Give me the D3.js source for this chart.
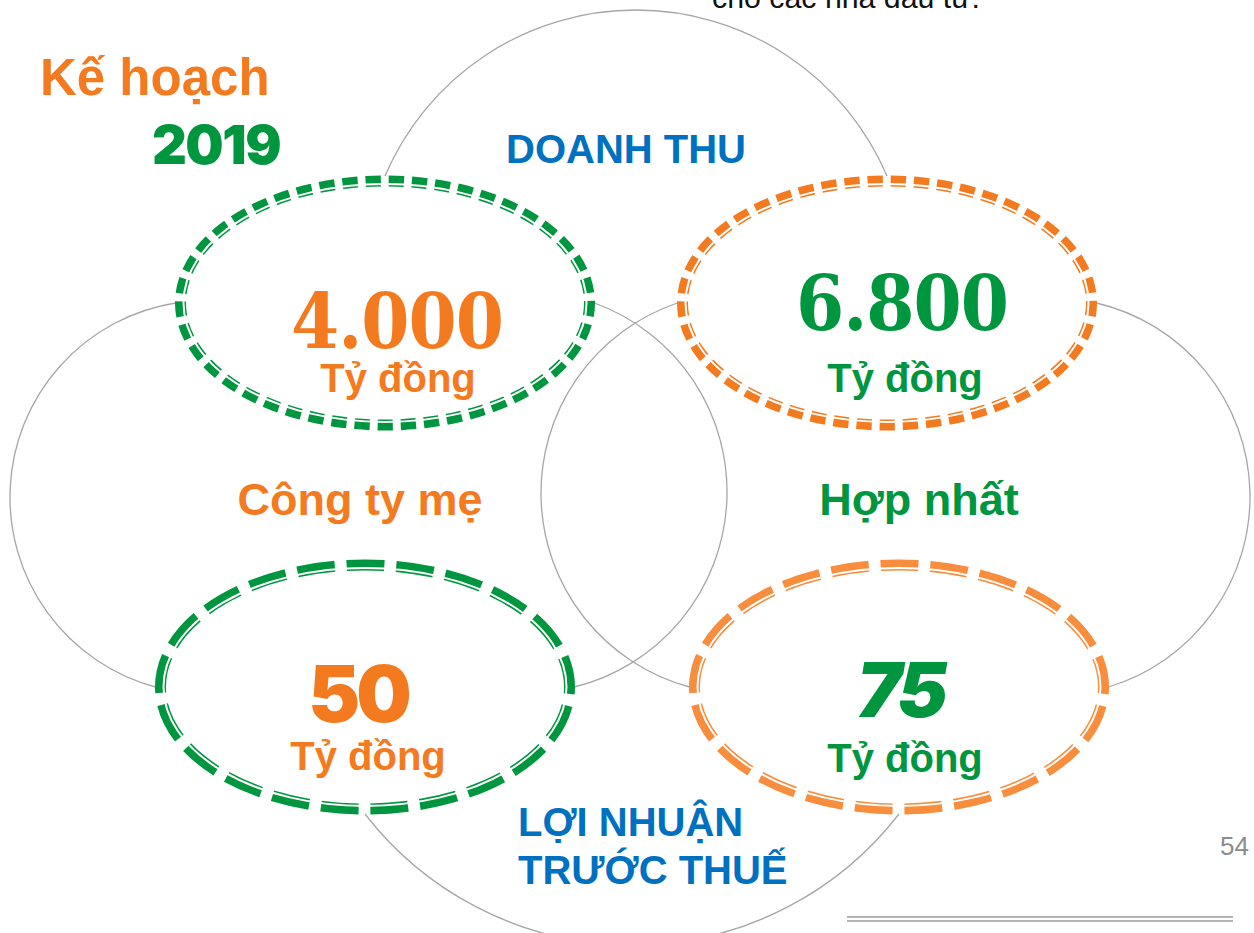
<!DOCTYPE html>
<html>
<head>
<meta charset="utf-8">
<script src="https://cdn.jsdelivr.net/npm/d3@7"></script>
<style>
  html, body { margin: 0; padding: 0; background: #fff; }
  svg { display: block; }
</style>
</head>
<body>
<svg id="chart" width="1254" height="933"></svg>
<script>
// ---------------- data ----------------
const titleLines = ["Kế hoạch", "2019"];
const scopes = ["Công ty mẹ", "Hợp nhất"];
const metrics = ["DOANH THU", "LỢI NHUẬN TRƯỚC THUẾ"];
const metricLines = [["DOANH THU"], ["LỢI NHUẬN", "TRƯỚC THUẾ"]];
const values = [4000, 6800, 50, 75];          // DT mẹ, DT hợp nhất, LN mẹ, LN hợp nhất
const unit = "Tỷ đồng";
const pageNumber = "54";
const topNote = "cho các nhà đầu tư.";

// ---------------- styles ----------------
const ORANGE = "#F47A20", ORANGE_L = "#F78D3D", GREEN = "#009640", BLUE = "#0070C0", GRAY = "#A6A6A6";
const ringColor = [GREEN, ORANGE, GREEN, ORANGE_L];
const valueColor = [ORANGE, GREEN, ORANGE, GREEN];
const HEAVY = "Inter, 'Lato Black', Lato, 'Open Sans', sans-serif";
const SERIF = "'DejaVu Serif Condensed', 'Liberation Serif', 'DejaVu Serif', serif";

const svg = d3.select("#chart");
const fmt = d3.formatLocale({decimal: ",", thousands: ".", grouping: [3], currency: ["", ""]}).format(",");

// layout scales
const x = d3.scalePoint().domain(scopes).range([376, 893]);
const y = d3.scalePoint().domain(metrics).range([303, 687]);
const nudgeX = [9, -6, -11, 6];
const cells = values.map((v, i) => {
  const s = scopes[i % 2], m = metrics[Math.floor(i / 2)];
  return {v, i, row: Math.floor(i / 2), col: i % 2, cx: x(s) + nudgeX[i], cy: y(m)};
});
const RX = 204.5, RY = 122;

// ---------------- gray connector arcs ----------------
function arcThrough(s, m, e) {
  const ax = s[0], ay = s[1], bx = m[0], by = m[1], cx = e[0], cy = e[1];
  const d = 2 * (ax * (by - cy) + bx * (cy - ay) + cx * (ay - by));
  const ux = ((ax*ax + ay*ay) * (by - cy) + (bx*bx + by*by) * (cy - ay) + (cx*cx + cy*cy) * (ay - by)) / d;
  const uy = ((ax*ax + ay*ay) * (cx - bx) + (bx*bx + by*by) * (ax - cx) + (cx*cx + cy*cy) * (bx - ax)) / d;
  const r = Math.hypot(ax - ux, ay - uy);
  const cross = (bx - ax) * (cy - by) - (by - ay) * (cx - bx);
  const sweep = cross > 0 ? 1 : 0;
  return `M${ax},${ay}A${r},${r} 0 0 ${sweep} ${cx},${cy}`;
}
const c = cells;
const edge = (k, side) => {
  const e = c[k];
  if (side === "top") return [e.cx, e.cy - RY - 5];
  if (side === "bottom") return [e.cx, e.cy + RY + 5];
  if (side === "left") return [e.cx - RX - 5, e.cy];
  return [e.cx + RX + 5, e.cy];
};
const connectors = [
  [edge(0, "top"), [636, 10], edge(1, "top")],
  [edge(0, "left"), [10, 495], edge(2, "left")],
  [edge(1, "right"), [1250, 495], edge(3, "right")],
  [edge(0, "right"), [727, 495], edge(2, "right")],
  [edge(1, "left"), [541, 495], edge(3, "left")],
  [edge(2, "bottom"), [632, 945], edge(3, "bottom")]
];
svg.append("g").selectAll("path").data(connectors).join("path")
  .attr("d", d => arcThrough(d[0], d[1], d[2]))
  .attr("fill", "none").attr("stroke", GRAY).attr("stroke-width", 1.3);

// ---------------- dashed double-line ellipses ----------------
function ellipsePath(cx, cy, rx, ry) {
  return `M${cx + rx},${cy}A${rx},${ry} 0 1 1 ${cx - rx},${cy}A${rx},${ry} 0 1 1 ${cx + rx},${cy}`;
}
const ringG = svg.append("g");
cells.forEach(d => {
  const top = d.row === 0;
  ringG.append("path")
    .attr("d", ellipsePath(d.cx, d.cy, RX, RY))
    .attr("fill", "none")
    .attr("stroke", ringColor[d.i])
    .attr("stroke-width", 11)
    .attr("pathLength", top ? 45 : 21)
    .attr("stroke-dasharray", top ? "0.66 0.34" : "0.76 0.24")
    .attr("stroke-dashoffset", top ? 0.09 : 0.62);
  ringG.append("path")
    .attr("d", ellipsePath(d.cx, d.cy, RX - 3, RY - 3))
    .attr("fill", "none")
    .attr("stroke", "#fff")
    .attr("stroke-width", 2);
});

// ---------------- texts ----------------
const txt = svg.append("g").attr("font-family", "'Liberation Sans', Arial, sans-serif").attr("font-weight", "bold");

// title
txt.append("text").attr("x", 40).attr("y", 95).attr("font-size", 51).attr("fill", ORANGE).text(titleLines[0]);
txt.append("text").attr("x", 216).attr("y", 164).attr("text-anchor", "middle")
  .attr("font-family", HEAVY).attr("font-weight", 900).attr("letter-spacing", -1.5)
  .attr("font-size", 54).attr("fill", GREEN).text(titleLines[1]);

// metric labels
txt.append("text").attr("x", 626).attr("y", 163).attr("text-anchor", "middle")
  .attr("font-size", 40).attr("fill", BLUE).text(metricLines[0][0]);
txt.append("g").selectAll("text").data(metricLines[1]).join("text")
  .attr("x", 518).attr("y", (d, i) => 836 + i * 48)
  .attr("font-size", 40).attr("fill", BLUE).text(d => d);

// scope labels
const scopeX = [360, 919];
txt.append("g").selectAll("text").data(scopes).join("text")
  .attr("x", (d, i) => scopeX[i]).attr("y", 515).attr("text-anchor", "middle")
  .attr("font-size", 45).attr("fill", (d, i) => i === 0 ? ORANGE : GREEN).text(d => d);

// values
const valDx = [12, 15, -7, 1], valBase = [348, 330, 722, 717];
const unitDx = [13, 18, 3, 6], unitBase = [392, 392, 770, 772];
txt.append("g").selectAll("text").data(cells).join("text")
  .attr("x", d => d.cx + valDx[d.i]).attr("y", d => valBase[d.i])
  .attr("text-anchor", "middle")
  .attr("font-family", d => d.row === 0 ? SERIF : HEAVY)
  .attr("font-weight", d => d.row === 0 ? "bold" : 900)
  .attr("font-style", d => d.i === 3 ? "italic" : "normal")
  .attr("letter-spacing", d => d.row === 0 ? -1 : -4)
  .attr("font-size", d => d.row === 0 ? 77 : (d.i === 3 ? 76 : 78))
  .attr("fill", d => valueColor[d.i])
  .text(d => fmt(d.v));
txt.append("g").selectAll("text").data(cells).join("text")
  .attr("x", d => d.cx + unitDx[d.i]).attr("y", d => unitBase[d.i])
  .attr("text-anchor", "middle")
  .attr("font-size", 40)
  .attr("fill", d => valueColor[d.i])
  .text(unit);

// page number & top note
svg.append("text").attr("x", 1220).attr("y", 855).attr("font-family", "'Liberation Sans', Arial, sans-serif")
  .attr("font-size", 26).attr("fill", "#8C8C8C").text(pageNumber);
svg.append("text").attr("x", 712).attr("y", 8).attr("font-family", "'Liberation Sans Narrow', 'Liberation Sans', Arial, sans-serif")
  .attr("font-size", 30).attr("fill", "#111").attr("textLength", 268).attr("lengthAdjust", "spacingAndGlyphs").text(topNote);

// bottom double rule
svg.append("g").selectAll("line").data([917, 921]).join("line")
  .attr("x1", 847).attr("x2", 1233).attr("y1", d => d).attr("y2", d => d)
  .attr("stroke", "#9A9A9A").attr("stroke-width", 1.5);
</script>
</body>
</html>
